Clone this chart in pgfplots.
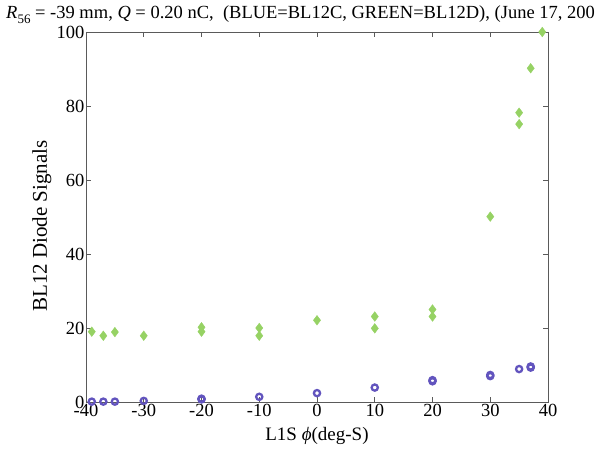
\documentclass[border=0pt]{standalone}
\usepackage{fontspec}
\setmainfont{Liberation Serif}
\usepackage{pgfplots}
\pgfplotsset{compat=1.18}
\definecolor{bblue}{RGB}{98,84,190}
\definecolor{ggreen}{RGB}{150,210,100}
\definecolor{axgray}{RGB}{90,90,90}
\begin{document}
\begin{tikzpicture}[x=1pt,y=1pt]
\useasboundingbox (0,0) rectangle (612,449);
\node[anchor=base west,inner sep=0pt,font=\fontsize{18.5}{22}\selectfont] at (6,430) {\textit{R}\raisebox{-0.55ex}{\fontsize{13}{14}\selectfont 56} = -39 mm, \textit{Q} = 0.20 nC,\ \ (BLUE=BL12C, GREEN=BL12D), (June 17, 200};
\begin{axis}[
  at={(86pt,47pt)}, anchor=south west,
  scale only axis, width=462pt, height=370pt,
  xmin=-40, xmax=40, ymin=0, ymax=100,
  xtick={-40,-30,...,40}, ytick={0,20,...,100},
  tick align=inside, major tick length=5pt,
  axis line style={axgray, line width=0.7pt},
  every tick/.style={axgray, line width=0.7pt},
  tick label style={font=\fontsize{18.5}{20}\selectfont},
  xticklabel style={inner sep=0.5pt, yshift=-1pt},
  yticklabel style={inner sep=1.5pt},
  /pgf/number format/assume math mode=true,
  xlabel={L1S \textit{ϕ}(deg-S)},
  ylabel={BL12 Diode Signals},
  xlabel style={font=\fontsize{19}{22}\selectfont, yshift=-7pt},
  ylabel style={font=\fontsize{21}{24}\selectfont, yshift=0pt, xshift=-9pt},
  clip=false,
]
\addplot[only marks, mark=diamond*, mark size=4.8pt, color=ggreen, mark options={fill=ggreen, draw=ggreen}] coordinates {
(-39,19.0) (-37,17.9) (-35,18.9) (-30,17.9) (-20,20.2) (-20,19.0)
(-10,20.0) (-10,17.9) (0,22.1) (10,23.1) (10,19.9) (20,25.0) (20,23.1)
(30,50.1) (35,78.2) (35,75.1) (37,90.2) (39,100)
};
\addplot[only marks, mark=o, mark size=3.1pt, color=bblue, mark options={line width=2.3pt, fill=white}] coordinates {
(-39,0.1) (-37,0.1) (-35,0.1) (-30,0.3) (-20,0.7) (-20,0.9) (-10,1.4) (0,2.4)
(10,3.9) (20,5.9) (20,5.6) (30,7.3) (30,7.0) (35,8.9) (37,9.3) (37,9.6)
};
\end{axis}
\end{tikzpicture}
\end{document}
